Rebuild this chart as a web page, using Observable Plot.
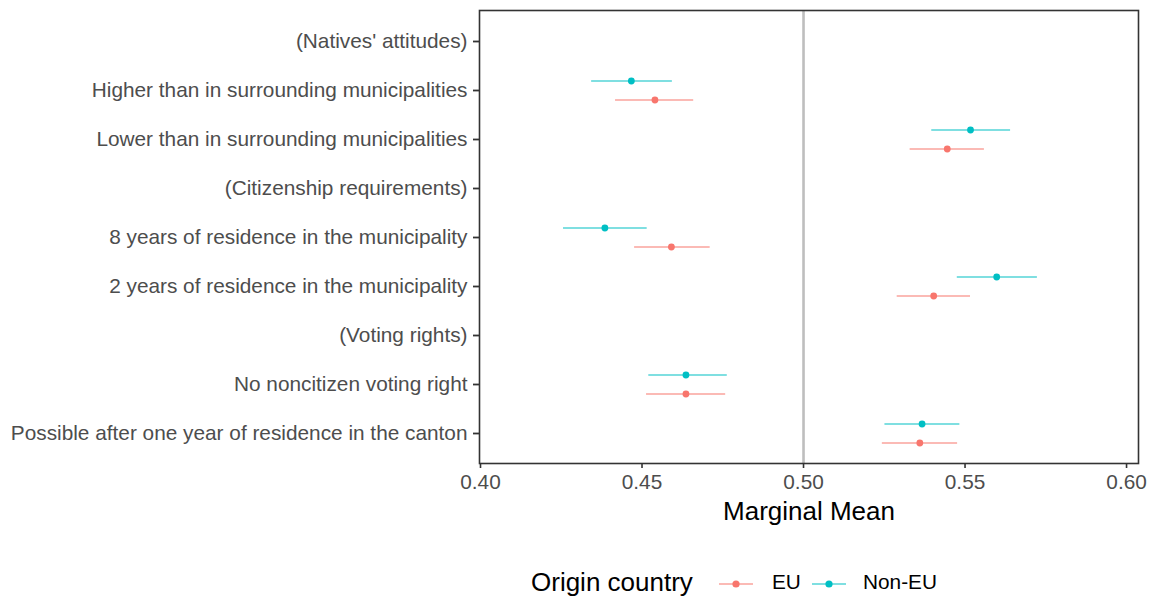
<!DOCTYPE html>
<html>
<head>
<meta charset="utf-8">
<script src="https://cdn.jsdelivr.net/npm/d3@7"></script>
<script src="https://cdn.jsdelivr.net/npm/@observablehq/plot@0.6"></script>
<style>
  body { margin: 0; background: #fff; font-family: "Liberation Sans", Arial, sans-serif; }
  #legend { position: relative; height: 54px; width: 1157px; }
  #legend .lt { position: absolute; color: #000; white-space: nowrap; }
  #legend svg { position: absolute; top: 27px; }
</style>
</head>
<body>
<div id="chart"></div>
<div id="legend"></div>
<script>
const categories = [
  "(Natives' attitudes)",
  "Higher than in surrounding municipalities",
  "Lower than in surrounding municipalities",
  "(Citizenship requirements)",
  "8 years of residence in the municipality",
  "2 years of residence in the municipality",
  "(Voting rights)",
  "No noncitizen voting right",
  "Possible after one year of residence in the canton"
];
const seriesNames = ["EU", "Non-EU"];
const seriesColors = ["#F8766D", "#00BFC4"];
// null = header row (no estimate)
const euEstimate  = [null, 0.4540, 0.5445, null, 0.4591, 0.5403, null, 0.4636, 0.5360];
const euLower     = [null, 0.4418, 0.5330, null, 0.4477, 0.5290, null, 0.4514, 0.5244];
const euUpper     = [null, 0.4660, 0.5560, null, 0.4711, 0.5517, null, 0.4759, 0.5477];
const nonEstimate = [null, 0.4467, 0.5517, null, 0.4385, 0.5598, null, 0.4636, 0.5367];
const nonLower    = [null, 0.4344, 0.5397, null, 0.4257, 0.5476, null, 0.4521, 0.5252];
const nonUpper    = [null, 0.4594, 0.5641, null, 0.4516, 0.5724, null, 0.4764, 0.5484];
const xTicks = [0.40, 0.45, 0.50, 0.55, 0.60];
const refValue = 0.5;

function rows(est, lo, hi, name) {
  return categories.map((c, i) => ({category: c, estimate: est[i], lower: lo[i], upper: hi[i], series: name}))
    .filter(d => d.estimate != null);
}
const eu = rows(euEstimate, euLower, euUpper, "EU");
const non = rows(nonEstimate, nonLower, nonUpper, "Non-EU");

const plot = Plot.plot({
  width: 1157,
  height: 545,
  marginLeft: 479,
  marginRight: 19,
  marginTop: 10,
  marginBottom: 82,
  style: {fontFamily: "'Liberation Sans', Arial, sans-serif", background: "#fff"},
  x: {domain: [0.39969, 0.6037]},
  y: {type: "point", domain: categories, padding: 0.6},
  color: {domain: seriesNames, range: seriesColors},
  marks: [
    Plot.ruleX([refValue], {stroke: "#bebebe", strokeWidth: 2.6}),
    Plot.ruleY(eu, {y: "category", x1: "lower", x2: "upper", stroke: "series", strokeWidth: 1.1, dy: 9.5}),
    Plot.dot(eu, {y: "category", x: "estimate", fill: "series", r: 3.4, dy: 9.5}),
    Plot.ruleY(non, {y: "category", x1: "lower", x2: "upper", stroke: "series", strokeWidth: 1.1, dy: -9.5}),
    Plot.dot(non, {y: "category", x: "estimate", fill: "series", r: 3.4, dy: -9.5}),
    Plot.frame({stroke: "#333", strokeWidth: 1.6}),
    Plot.axisX({ticks: xTicks, tickFormat: d3.format(".2f"), tickSize: 5, tickPadding: 6, strokeWidth: 1.6, fontSize: 20.8, color: "#4d4d4d", stroke: "#333", label: null}),
    Plot.axisY({tickSize: 6, tickPadding: 6, strokeWidth: 1.8, fontSize: 20.8, color: "#4d4d4d", stroke: "#333", label: null}),
    Plot.text(["Marginal Mean"], {frameAnchor: "bottom", dy: 56, fontSize: 26, fill: "#000"})
  ]
});
document.getElementById("chart").appendChild(plot);

// legend
const legend = document.getElementById("legend");
function addText(txt, left, size) {
  const s = document.createElement("div");
  s.className = "lt"; s.style.left = left + "px"; s.style.fontSize = size + "px";
  s.style.top = (39 - size * 0.58) + "px"; s.style.lineHeight = "1";
  s.textContent = txt;
  legend.appendChild(s);
}
function addKey(color, left) {
  const ns = "http://www.w3.org/2000/svg";
  const svg = document.createElementNS(ns, "svg");
  svg.setAttribute("width", 36); svg.setAttribute("height", 24);
  svg.style.left = left + "px";
  const l = document.createElementNS(ns, "line");
  l.setAttribute("x1", 1); l.setAttribute("x2", 35); l.setAttribute("y1", 12); l.setAttribute("y2", 12);
  l.setAttribute("stroke", color); l.setAttribute("stroke-width", 1.1);
  svg.appendChild(l);
  const c = document.createElementNS(ns, "circle");
  c.setAttribute("cx", 18); c.setAttribute("cy", 12); c.setAttribute("r", 3.6); c.setAttribute("fill", color);
  svg.appendChild(c);
  legend.appendChild(svg);
}
addText("Origin country", 531, 26);
addKey(seriesColors[0], 718);
addText(seriesNames[0], 772, 20.8);
addKey(seriesColors[1], 811);
addText(seriesNames[1], 863, 20.8);
</script>
</body>
</html>
